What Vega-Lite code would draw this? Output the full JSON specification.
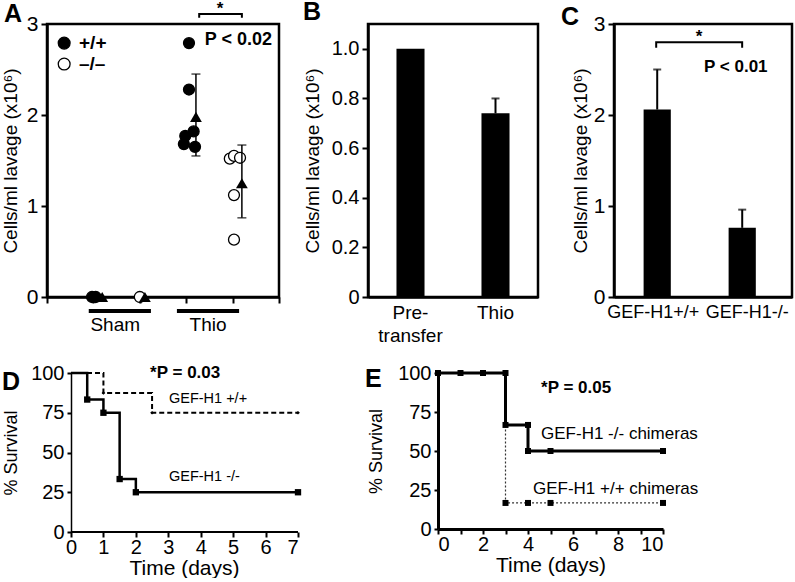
{
  "$schema": "https://vega.github.io/schema/vega-lite/v6.json",
  "padding": {"left": 0, "top": -2, "right": 0, "bottom": 0},
  "background": "white",
  "config": {
    "font": "Liberation Sans",
    "view": {"stroke": "black", "strokeWidth": 2.5},
    "axis": {"grid": false, "domainColor": "black", "domainWidth": 2.5, "tickColor": "black", "tickWidth": 2, "tickSize": 6,
             "labelColor": "black", "labelFontSize": 20, "labelFont": "Liberation Sans", "titleFont": "Liberation Sans", "labelOverlap": false,
             "titleColor": "black", "titleFontSize": 19, "titleFontWeight": "normal", "labelPadding": 3, "titlePadding": 8},
    "title": {"anchor": "start", "frame": "group", "fontSize": 25, "fontWeight": "bold", "color": "black", "font": "Liberation Sans", "offset": 0}
  },
  "datasets": {
    "a_cells": [
      {"group": "Sham", "genotype": "+/+", "x": 0.97, "cells": 0},
      {"group": "Sham", "genotype": "+/+", "x": 1.05, "cells": 0},
      {"group": "Sham", "genotype": "–/–", "x": 2.0, "cells": 0},
      {"group": "Thio", "genotype": "+/+", "x": 3.06, "cells": 2.79},
      {"group": "Thio", "genotype": "+/+", "x": 3.06, "cells": 2.28},
      {"group": "Thio", "genotype": "+/+", "x": 2.98, "cells": 1.77},
      {"group": "Thio", "genotype": "+/+", "x": 2.95, "cells": 1.68},
      {"group": "Thio", "genotype": "+/+", "x": 3.16, "cells": 1.82},
      {"group": "Thio", "genotype": "+/+", "x": 3.19, "cells": 1.65},
      {"group": "Thio", "genotype": "–/–", "x": 3.94, "cells": 1.52},
      {"group": "Thio", "genotype": "–/–", "x": 4.03, "cells": 1.55},
      {"group": "Thio", "genotype": "–/–", "x": 4.16, "cells": 1.53},
      {"group": "Thio", "genotype": "–/–", "x": 4.03, "cells": 1.12},
      {"group": "Thio", "genotype": "–/–", "x": 4.03, "cells": 0.63}
    ],
    "a_legend": [
      {"genotype": "+/+", "x": 0.37, "y": 2.79, "tx": 0.69},
      {"genotype": "–/–", "x": 0.37, "y": 2.56, "tx": 0.69}
    ],
    "a_means": [
      {"group": "Sham", "genotype": "+/+", "x": 1.19, "mean": 0},
      {"group": "Sham", "genotype": "–/–", "x": 2.11, "mean": 0},
      {"group": "Thio", "genotype": "+/+", "x": 3.21, "mean": 1.98, "lower": 1.55, "upper": 2.45},
      {"group": "Thio", "genotype": "–/–", "x": 4.2, "mean": 1.25, "lower": 0.87, "upper": 1.67}
    ],
    "a_groups": [
      {"group": "Sham", "start": 0.9, "end": 2.24, "center": 1.47, "bar_y": -0.154, "label_y": -0.31},
      {"group": "Thio", "start": 2.8, "end": 4.14, "center": 3.47, "bar_y": -0.154, "label_y": -0.31}
    ],
    "a_bracket": [
      {"x": 3.28, "y": 3.07, "i": 0},
      {"x": 3.28, "y": 3.11, "i": 1},
      {"x": 4.2, "y": 3.11, "i": 2},
      {"x": 4.2, "y": 3.07, "i": 3}
    ],
    "a_notes": [
      {"label": "P < 0.02", "x": 3.4, "y": 2.82, "kind": "p"},
      {"label": "*", "x": 3.73, "y": 3.16, "kind": "star"}
    ],
    "b_cells": [
      {"condition": "Pre-transfer", "cells": 1.0},
      {"condition": "Thio", "cells": 0.74, "upper": 0.8}
    ],
    "c_cells": [
      {"genotype": "GEF-H1+/+", "cells": 2.06, "upper": 2.5},
      {"genotype": "GEF-H1-/-", "cells": 0.76, "upper": 0.96}
    ],
    "c_bracket": [
      {"x": 0.237, "y": 2.74, "i": 0},
      {"x": 0.237, "y": 2.8, "i": 1},
      {"x": 0.72, "y": 2.8, "i": 2},
      {"x": 0.72, "y": 2.74, "i": 3}
    ],
    "c_notes": [
      {"label": "P < 0.01", "x": 0.506, "y": 2.53, "kind": "p"},
      {"label": "*", "x": 0.478, "y": 2.86, "kind": "star"}
    ],
    "d_surv": [
      {"genotype": "GEF-H1 +/+", "t": 0, "s": 100, "i": 0},
      {"genotype": "GEF-H1 +/+", "t": 1, "s": 87.5, "i": 1},
      {"genotype": "GEF-H1 +/+", "t": 2.5, "s": 75, "i": 2},
      {"genotype": "GEF-H1 +/+", "t": 7, "s": 75, "i": 3},
      {"genotype": "GEF-H1 -/-", "t": 0, "s": 100, "i": 0},
      {"genotype": "GEF-H1 -/-", "t": 0.5, "s": 83.3, "i": 1},
      {"genotype": "GEF-H1 -/-", "t": 1, "s": 75, "i": 2},
      {"genotype": "GEF-H1 -/-", "t": 1.5, "s": 33.3, "i": 3},
      {"genotype": "GEF-H1 -/-", "t": 2, "s": 25, "i": 4},
      {"genotype": "GEF-H1 -/-", "t": 7, "s": 25, "i": 5}
    ],
    "d_axis": [
      {"t0": 0, "t1": 7, "s": 0}
    ],
    "d_notes": [
      {"label": "*P = 0.03", "t": 2.44, "s": 100, "kind": "p"},
      {"label": "GEF-H1 +/+", "t": 3.02, "s": 83.6, "kind": "name"},
      {"label": "GEF-H1 -/-", "t": 3.02, "s": 34.6, "kind": "name"}
    ],
    "e_surv": [
      {"genotype": "GEF-H1 +/+ chimeras", "t": 0, "s": 100, "i": 0},
      {"genotype": "GEF-H1 +/+ chimeras", "t": 3, "s": 100, "i": 1},
      {"genotype": "GEF-H1 +/+ chimeras", "t": 3, "s": 16.7, "i": 2},
      {"genotype": "GEF-H1 +/+ chimeras", "t": 4, "s": 16.7, "i": 3},
      {"genotype": "GEF-H1 +/+ chimeras", "t": 5, "s": 16.7, "i": 4},
      {"genotype": "GEF-H1 +/+ chimeras", "t": 10, "s": 16.7, "i": 5},
      {"genotype": "GEF-H1 -/- chimeras", "t": 0, "s": 100, "i": 0},
      {"genotype": "GEF-H1 -/- chimeras", "t": 1, "s": 100, "i": 1},
      {"genotype": "GEF-H1 -/- chimeras", "t": 2, "s": 100, "i": 2},
      {"genotype": "GEF-H1 -/- chimeras", "t": 3, "s": 100, "i": 3},
      {"genotype": "GEF-H1 -/- chimeras", "t": 3, "s": 66.7, "i": 4},
      {"genotype": "GEF-H1 -/- chimeras", "t": 4, "s": 66.7, "i": 5},
      {"genotype": "GEF-H1 -/- chimeras", "t": 4, "s": 50, "i": 6},
      {"genotype": "GEF-H1 -/- chimeras", "t": 5, "s": 50, "i": 7},
      {"genotype": "GEF-H1 -/- chimeras", "t": 10, "s": 50, "i": 8}
    ],
    "e_notes": [
      {"label": "*P = 0.05", "t": 4.58, "s": 90.4, "kind": "p"},
      {"label": "GEF-H1 -/- chimeras", "t": 4.58, "s": 60.9, "kind": "name"},
      {"label": "GEF-H1 +/+ chimeras", "t": 4.22, "s": 25.6, "kind": "name"}
    ]
  },
  "columns": 1,
  "align": "none",
  "spacing": 16,
  "concat": [
    {
      "spacing": 19,
      "hconcat": [
        {
          "width": 232, "height": 273,
          "title": {"text": "A", "dx": -43, "offset": -27},
          "layer": [
            {
              "data": {"name": "a_cells"},
              "mark": {"type": "circle", "stroke": "black", "strokeWidth": 1.3, "size": 120, "opacity": 1},
              "encoding": {
                "x": {"field": "x", "type": "quantitative", "scale": {"domain": [0, 5], "nice": false},
                      "axis": {"values": [0, 1, 2, 3, 4, 5], "tickCount": 6, "labels": false, "title": null}},
                "y": {"field": "cells", "type": "quantitative", "scale": {"domain": [0, 3], "nice": false},
                      "axis": {"values": [0, 1, 2, 3], "tickCount": 4, "format": "d", "title": "Cells/ml lavage (x10⁶)", "labelFontSize": 21, "titlePadding": 6}},
                "fill": {"field": "genotype", "type": "nominal", "scale": {"domain": ["+/+", "–/–"], "range": ["black", "white"]}, "legend": null}
              }
            },
            {
              "data": {"name": "a_groups"},
              "mark": {"type": "rule", "color": "black", "strokeWidth": 4},
              "encoding": {
                "x": {"field": "start", "type": "quantitative"},
                "x2": {"field": "end"},
                "y": {"field": "bar_y", "type": "quantitative"}
              }
            },
            {
              "data": {"name": "a_groups"},
              "mark": {"type": "text", "fontSize": 19, "align": "center", "baseline": "middle", "color": "black"},
              "encoding": {
                "x": {"field": "center", "type": "quantitative"},
                "y": {"field": "label_y", "type": "quantitative"},
                "text": {"field": "group"}
              }
            },
            {
              "data": {"name": "a_means"},
              "transform": [{"filter": "isValid(datum.upper)"}],
              "mark": {"type": "rule", "color": "black", "strokeWidth": 1.5},
              "encoding": {
                "x": {"field": "x", "type": "quantitative"},
                "y": {"field": "lower", "type": "quantitative"},
                "y2": {"field": "upper"}
              }
            },
            {
              "data": {"name": "a_means"},
              "transform": [{"filter": "isValid(datum.upper)"}],
              "mark": {"type": "tick", "orient": "horizontal", "color": "black", "size": 9, "thickness": 1.5},
              "encoding": {
                "x": {"field": "x", "type": "quantitative"},
                "y": {"field": "upper", "type": "quantitative"}
              }
            },
            {
              "data": {"name": "a_means"},
              "transform": [{"filter": "isValid(datum.lower)"}],
              "mark": {"type": "tick", "orient": "horizontal", "color": "black", "size": 9, "thickness": 1.5},
              "encoding": {
                "x": {"field": "x", "type": "quantitative"},
                "y": {"field": "lower", "type": "quantitative"}
              }
            },
            {
              "data": {"name": "a_legend"},
              "mark": {"type": "circle", "stroke": "black", "strokeWidth": 1.3, "size": 140, "opacity": 1},
              "encoding": {
                "x": {"field": "x", "type": "quantitative"},
                "y": {"field": "y", "type": "quantitative"},
                "fill": {"field": "genotype", "type": "nominal", "legend": null}
              }
            },
            {
              "data": {"name": "a_legend"},
              "mark": {"type": "text", "fontSize": 19, "fontWeight": "bold", "align": "left", "baseline": "middle", "color": "black"},
              "encoding": {
                "x": {"field": "tx", "type": "quantitative"},
                "y": {"field": "y", "type": "quantitative"},
                "text": {"field": "genotype"}
              }
            },
            {
              "data": {"name": "a_means"},
              "mark": {"type": "point", "shape": "triangle-up", "filled": true, "color": "black", "size": 140, "opacity": 1},
              "encoding": {
                "x": {"field": "x", "type": "quantitative"},
                "y": {"field": "mean", "type": "quantitative"}
              }
            },
            {
              "data": {"name": "a_bracket"},
              "mark": {"type": "line", "color": "black", "strokeWidth": 2},
              "encoding": {
                "x": {"field": "x", "type": "quantitative"},
                "y": {"field": "y", "type": "quantitative"},
                "order": {"field": "i"}
              }
            },
            {
              "data": {"name": "a_notes"},
              "transform": [{"filter": "datum.kind == 'p'"}],
              "mark": {"type": "text", "fontSize": 18, "fontWeight": "bold", "align": "left", "baseline": "middle", "color": "black"},
              "encoding": {
                "x": {"field": "x", "type": "quantitative"},
                "y": {"field": "y", "type": "quantitative"},
                "text": {"field": "label"}
              }
            },
            {
              "data": {"name": "a_notes"},
              "transform": [{"filter": "datum.kind == 'star'"}],
              "mark": {"type": "text", "fontSize": 17, "fontWeight": "bold", "align": "center", "baseline": "middle", "color": "black"},
              "encoding": {
                "x": {"field": "x", "type": "quantitative"},
                "y": {"field": "y", "type": "quantitative"},
                "text": {"field": "label"}
              }
            }
          ]
        },
        {
          "width": 170, "height": 273,
          "title": {"text": "B", "dx": -65, "offset": -1},
          "data": {"name": "b_cells"},
          "layer": [
            {
              "mark": {"type": "bar", "color": "black"},
              "encoding": {
                "x": {"field": "condition", "type": "nominal", "sort": null, "scale": {"paddingInner": 0.67, "paddingOuter": 0.335},
                      "axis": {"title": null, "labelAngle": 0, "ticks": false, "labelFontSize": 19, "labelPadding": 6, "labelLineHeight": 23,
                               "labelExpr": "datum.label == 'Pre-transfer' ? ['Pre-', 'transfer'] : datum.label"}},
                "y": {"field": "cells", "type": "quantitative", "scale": {"domain": [0, 1.1], "nice": false},
                      "axis": {"values": [0, 0.2, 0.4, 0.6, 0.8, 1.0], "title": "Cells/ml lavage (x10⁶)", "titlePadding": 9,
                               "labelExpr": "datum.value == 0 ? '0' : format(datum.value, '.1f')"}}
              }
            },
            {
              "transform": [{"filter": "isValid(datum.upper)"}],
              "mark": {"type": "rule", "color": "black", "strokeWidth": 2},
              "encoding": {
                "x": {"field": "condition", "type": "nominal", "sort": null},
                "y": {"field": "cells", "type": "quantitative"},
                "y2": {"field": "upper"}
              }
            },
            {
              "transform": [{"filter": "isValid(datum.upper)"}],
              "mark": {"type": "tick", "orient": "horizontal", "color": "black", "size": 8, "thickness": 2},
              "encoding": {
                "x": {"field": "condition", "type": "nominal", "sort": null},
                "y": {"field": "upper", "type": "quantitative"}
              }
            }
          ]
        },
        {
          "width": 178, "height": 273,
          "title": {"text": "C", "dx": -53, "offset": -17},
          "layer": [
            {
              "data": {"name": "c_cells"},
              "layer": [
                {
                  "mark": {"type": "bar", "color": "black"},
                  "encoding": {
                    "x": {"field": "genotype", "type": "nominal", "sort": null, "scale": {"paddingInner": 0.68, "paddingOuter": 0.387, "align": 0.45},
                          "axis": {"title": null, "labelAngle": 0, "ticks": false, "labelFontSize": 18, "labelPadding": 6,
                                   "labelOffset": {"condition": {"test": "datum.value == 'GEF-H1-/-'", "value": 5}, "value": -4}}},
                    "y": {"field": "cells", "type": "quantitative", "scale": {"domain": [0, 3], "nice": false},
                          "axis": {"values": [0, 1, 2, 3], "tickCount": 4, "format": "d", "title": "Cells/ml lavage (x10⁶)", "labelFontSize": 21, "titlePadding": 3}}
                  }
                },
                {
                  "mark": {"type": "rule", "color": "black", "strokeWidth": 2},
                  "encoding": {
                    "x": {"field": "genotype", "type": "nominal", "sort": null},
                    "y": {"field": "cells", "type": "quantitative"},
                    "y2": {"field": "upper"}
                  }
                },
                {
                  "mark": {"type": "tick", "orient": "horizontal", "color": "black", "size": 8, "thickness": 2},
                  "encoding": {
                    "x": {"field": "genotype", "type": "nominal", "sort": null},
                    "y": {"field": "upper", "type": "quantitative"}
                  }
                }
              ]
            },
            {
              "layer": [
                {
                  "data": {"name": "c_bracket"},
                  "mark": {"type": "line", "color": "black", "strokeWidth": 2},
                  "encoding": {
                    "x": {"field": "x", "type": "quantitative", "scale": {"domain": [0, 1], "nice": false}, "axis": null},
                    "y": {"field": "y", "type": "quantitative"},
                    "order": {"field": "i"}
                  }
                },
                {
                  "data": {"name": "c_notes"},
                  "transform": [{"filter": "datum.kind == 'p'"}],
                  "mark": {"type": "text", "fontSize": 17, "fontWeight": "bold", "align": "left", "baseline": "middle", "color": "black"},
                  "encoding": {
                    "x": {"field": "x", "type": "quantitative"},
                    "y": {"field": "y", "type": "quantitative"},
                    "text": {"field": "label"}
                  }
                },
                {
                  "data": {"name": "c_notes"},
                  "transform": [{"filter": "datum.kind == 'star'"}],
                  "mark": {"type": "text", "fontSize": 17, "fontWeight": "bold", "align": "center", "baseline": "middle", "color": "black"},
                  "encoding": {
                    "x": {"field": "x", "type": "quantitative"},
                    "y": {"field": "y", "type": "quantitative"},
                    "text": {"field": "label"}
                  }
                }
              ]
            }
          ],
          "resolve": {"scale": {"x": "independent"}, "axis": {"x": "independent"}}
        }
      ]
    },
    {
      "spacing": 62,
      "hconcat": [
        {
          "width": 251, "height": 159,
          "view": {"stroke": null},
          "title": {"text": "D", "dx": -45, "offset": -32},
          "layer": [
            {
              "data": {"name": "d_surv"},
              "transform": [{"filter": "datum.genotype == 'GEF-H1 +/+'"}],
              "mark": {"type": "line", "interpolate": "step-after", "color": "black", "strokeWidth": 2, "strokeDash": [5, 3]},
              "encoding": {
                "x": {"field": "t", "type": "quantitative", "scale": {"domain": [-0.74, 7], "nice": false, "zero": false},
                      "axis": {"values": [0, 1, 2, 3, 4, 5, 6, 7], "tickCount": 8, "domain": false, "labelPadding": 0, "title": "Time (days)", "titleFontSize": 21, "titlePadding": 0, "titleX": 137, "tickSize": 5}},
                "y": {"field": "s", "type": "quantitative", "scale": {"domain": [0, 100], "nice": false},
                      "axis": {"values": [0, 25, 50, 75, 100], "tickCount": 5, "offset": -24, "title": "% Survival", "titleFontSize": 18, "titlePadding": 10, "domainWidth": 1.5, "tickSize": 4}},
                "order": {"field": "i"}
              }
            },
            {
              "data": {"name": "d_axis"},
              "mark": {"type": "rule", "color": "black", "strokeWidth": 2},
              "encoding": {
                "x": {"field": "t0", "type": "quantitative"},
                "x2": {"field": "t1"},
                "y": {"field": "s", "type": "quantitative"}
              }
            },
            {
              "data": {"name": "d_surv"},
              "transform": [{"filter": "datum.genotype == 'GEF-H1 -/-'"}],
              "mark": {"type": "line", "interpolate": "step-after", "color": "black", "strokeWidth": 2.5},
              "encoding": {
                "x": {"field": "t", "type": "quantitative"},
                "y": {"field": "s", "type": "quantitative"},
                "order": {"field": "i"}
              }
            },
            {
              "data": {"name": "d_surv"},
              "transform": [{"filter": "datum.genotype == 'GEF-H1 +/+' && datum.t > 0"}],
              "mark": {"type": "point", "shape": "diamond", "filled": true, "color": "black", "size": 14, "opacity": 1},
              "encoding": {
                "x": {"field": "t", "type": "quantitative"},
                "y": {"field": "s", "type": "quantitative"}
              }
            },
            {
              "data": {"name": "d_surv"},
              "transform": [{"filter": "datum.genotype == 'GEF-H1 -/-' && datum.t > 0"}],
              "mark": {"type": "point", "shape": "square", "filled": true, "color": "black", "size": 40, "opacity": 1},
              "encoding": {
                "x": {"field": "t", "type": "quantitative"},
                "y": {"field": "s", "type": "quantitative"}
              }
            },
            {
              "data": {"name": "d_notes"},
              "transform": [{"filter": "datum.kind == 'p'"}],
              "mark": {"type": "text", "fontSize": 17, "fontWeight": "bold", "align": "left", "baseline": "middle", "color": "black"},
              "encoding": {
                "x": {"field": "t", "type": "quantitative"},
                "y": {"field": "s", "type": "quantitative"},
                "text": {"field": "label"}
              }
            },
            {
              "data": {"name": "d_notes"},
              "transform": [{"filter": "datum.kind == 'name'"}],
              "mark": {"type": "text", "fontSize": 14.5, "align": "left", "baseline": "middle", "color": "black"},
              "encoding": {
                "x": {"field": "t", "type": "quantitative"},
                "y": {"field": "s", "type": "quantitative"},
                "text": {"field": "label"}
              }
            }
          ]
        },
        {
          "width": 225, "height": 156,
          "view": {"stroke": null},
          "title": {"text": "E", "dx": -73, "offset": -29},
          "layer": [
            {
              "data": {"name": "e_surv"},
              "transform": [{"filter": "datum.genotype == 'GEF-H1 +/+ chimeras'"}],
              "mark": {"type": "line", "interpolate": "step-after", "color": "#333333", "strokeWidth": 1.2, "strokeDash": [2, 2]},
              "encoding": {
                "x": {"field": "t", "type": "quantitative", "scale": {"domain": [0, 10], "nice": false},
                      "axis": {"values": [0, 1, 2, 3, 4, 5, 6, 7, 8, 9, 10], "tickCount": 11, "labelExpr": "datum.value % 2 == 0 ? datum.label : ''", "labelPadding": 0,
                               "title": "Time (days)", "titleFontSize": 21, "titlePadding": 0, "domainWidth": 3, "tickSize": 5}},
                "y": {"field": "s", "type": "quantitative", "scale": {"domain": [0, 100], "nice": false},
                      "axis": {"values": [0, 25, 50, 75, 100], "tickCount": 5, "title": "% Survival", "titleFontSize": 18, "titlePadding": 12, "domainWidth": 3, "tickSize": 4}},
                "order": {"field": "i"}
              }
            },
            {
              "data": {"name": "e_surv"},
              "transform": [{"filter": "datum.genotype == 'GEF-H1 -/- chimeras'"}],
              "mark": {"type": "line", "interpolate": "step-after", "color": "black", "strokeWidth": 3},
              "encoding": {
                "x": {"field": "t", "type": "quantitative"},
                "y": {"field": "s", "type": "quantitative"},
                "order": {"field": "i"}
              }
            },
            {
              "data": {"name": "e_surv"},
              "transform": [{"filter": "datum.genotype == 'GEF-H1 -/- chimeras' || datum.s < 100"}],
              "mark": {"type": "point", "shape": "square", "filled": true, "color": "black", "size": 36, "opacity": 1},
              "encoding": {
                "x": {"field": "t", "type": "quantitative"},
                "y": {"field": "s", "type": "quantitative"}
              }
            },
            {
              "data": {"name": "e_notes"},
              "transform": [{"filter": "datum.kind == 'p'"}],
              "mark": {"type": "text", "fontSize": 17, "fontWeight": "bold", "align": "left", "baseline": "middle", "color": "black"},
              "encoding": {
                "x": {"field": "t", "type": "quantitative"},
                "y": {"field": "s", "type": "quantitative"},
                "text": {"field": "label"}
              }
            },
            {
              "data": {"name": "e_notes"},
              "transform": [{"filter": "datum.kind == 'name'"}],
              "mark": {"type": "text", "fontSize": 17, "align": "left", "baseline": "middle", "color": "black"},
              "encoding": {
                "x": {"field": "t", "type": "quantitative"},
                "y": {"field": "s", "type": "quantitative"},
                "text": {"field": "label"}
              }
            }
          ]
        }
      ]
    }
  ]
}
